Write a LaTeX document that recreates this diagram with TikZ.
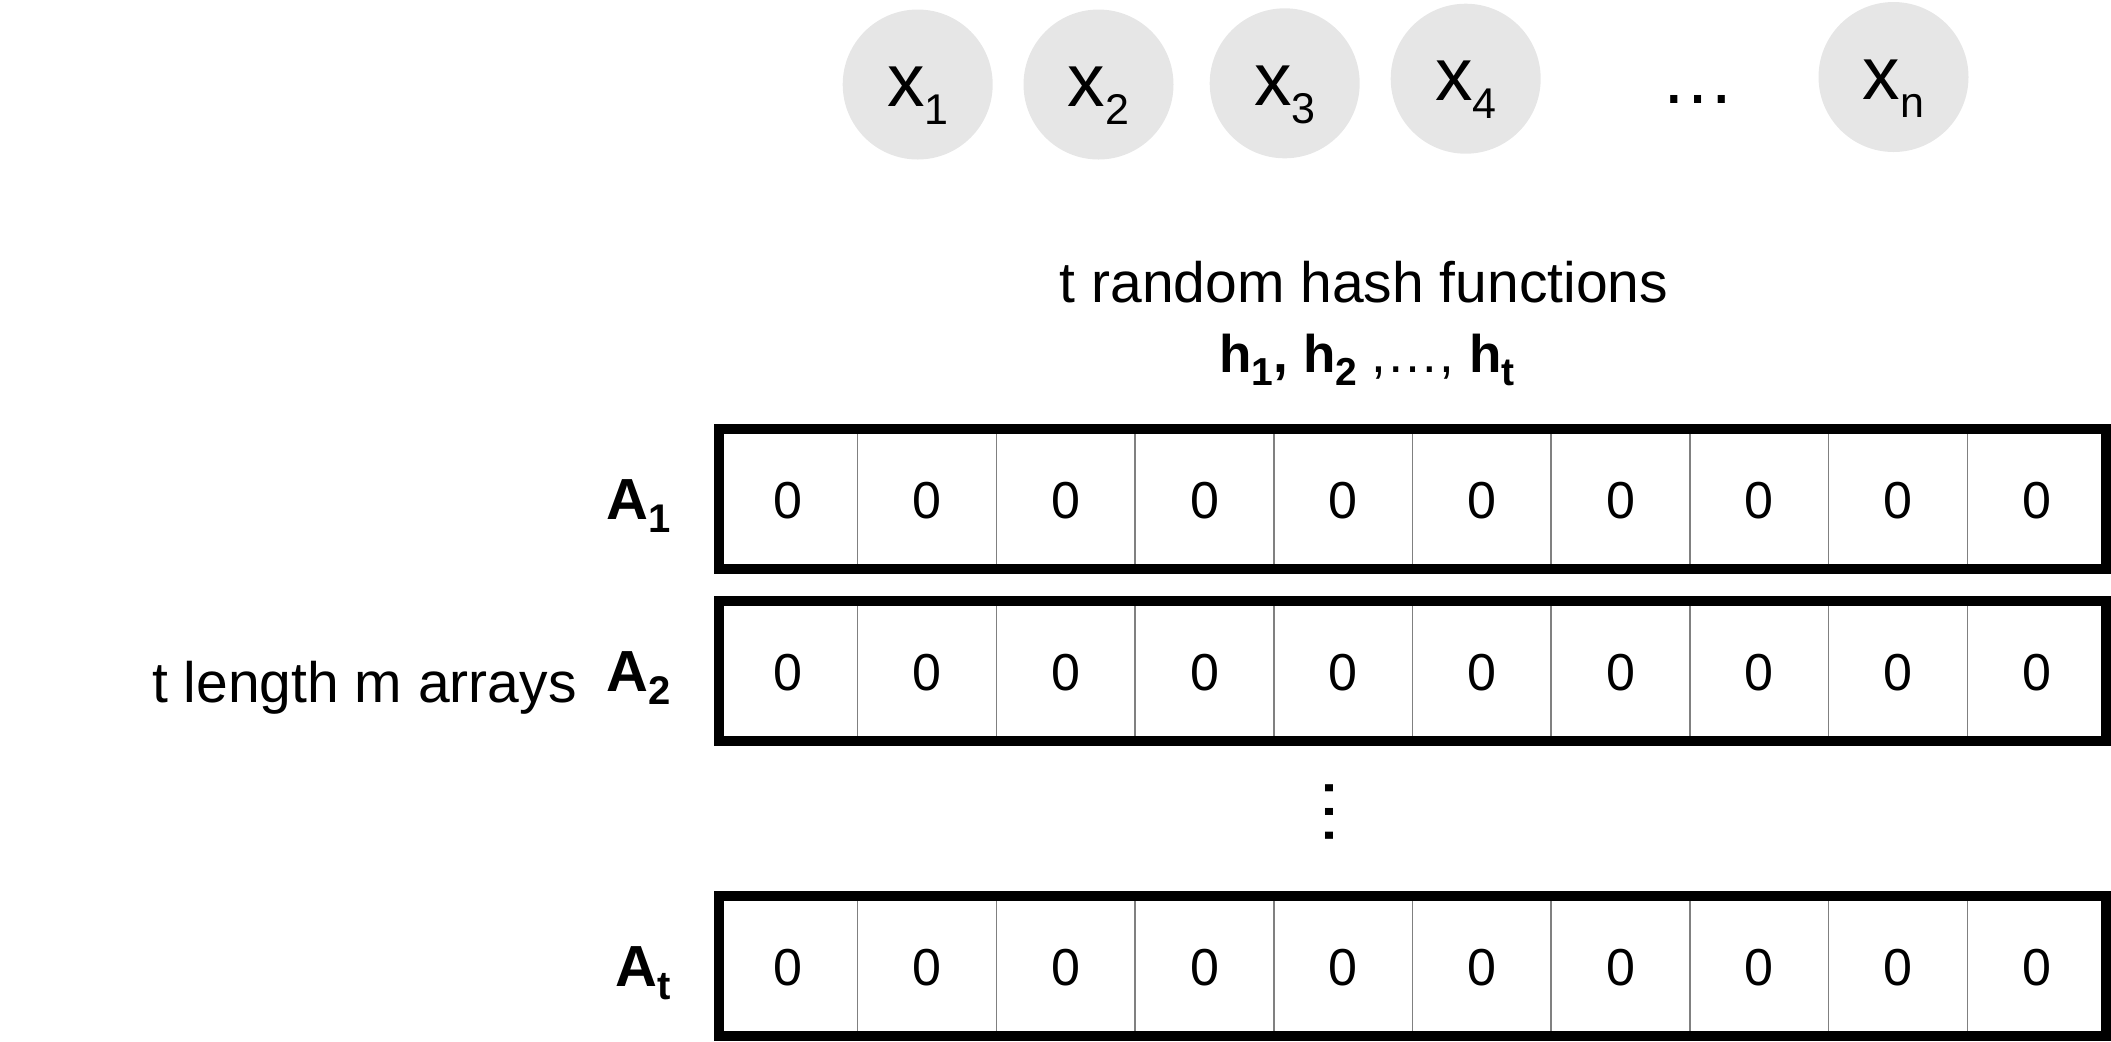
\documentclass[tikz,border=0pt]{standalone}
\usepackage{fontspec}
\setmainfont{Liberation Sans}
\definecolor{circfill}{RGB}{230,230,230}
\definecolor{divgray}{RGB}{128,128,128}
\newcommand\xsub[1]{\raisebox{-9pt}{\fontsize{21.5}{22}\selectfont #1}}
\newcommand\asub[1]{\raisebox{-6.5pt}{\fontsize{20}{20}\selectfont\bfseries #1}}
\newcommand\hsub[1]{\raisebox{-6.5pt}{\fontsize{19.5}{20}\selectfont\bfseries #1}}
\begin{document}
\begin{tikzpicture}[x=0.5pt,y=-0.5pt,
  circ/.style={circle, fill=circfill, minimum size=75pt, inner sep=0pt},
  xlab/.style={font=\fontsize{37.5}{40}\selectfont, anchor=base, inner sep=0pt},
  divline/.style={draw=divgray, line width=0.75pt},
  arrbox/.style={draw=black, line width=5pt},
  zero/.style={font=\fontsize{26}{28}\selectfont, inner sep=0pt, anchor=center},
  rowlab/.style={font=\fontsize{29}{30}\selectfont\bfseries, anchor=base east, inner sep=0pt},
  bigtext/.style={font=\fontsize{28.5}{30}\selectfont, inner sep=0pt},
  dotstext/.style={font=\fontsize{37.5}{40}\selectfont, inner sep=0pt}]
\useasboundingbox (0,0) rectangle (2111,1041);
% input elements
\node[circ] (x1) at (917.7,84.5) {};
\node[circ] (x2) at (1098.5,84.5) {};
\node[circ] (x3) at (1284.7,83.3) {};
\node[circ] (x4) at (1465.7,78.7) {};
\node[circ] (xn) at (1893.5,77) {};
\node[xlab] (lx1) at ([yshift=-11pt]x1.center) {x\xsub{1}};
\node[xlab] (lx2) at ([yshift=-11pt]x2.center) {x\xsub{2}};
\node[xlab] (lx3) at ([yshift=-11pt]x3.center) {x\xsub{3}};
\node[xlab] (lx4) at ([yshift=-11pt]x4.center) {x\xsub{4}};
\node[xlab] (lxn) at ([yshift=-11pt]xn.center) {x\xsub{n}};
\node[dotstext, anchor=base] (hdots) at (1698.3,103) {…};
% hash functions
\node[bigtext, anchor=base] (hashtitle) at (1364,302) {t random hash functions};
\node[font=\fontsize{26.5}{28}\selectfont, anchor=base, inner sep=0pt] (hashlist) at (1367,372)
  {\textbf{h\hsub{1}, h\hsub{2}} ,…, \textbf{h\hsub{t}}};
% arrays
\node[bigtext, anchor=base east] (arrlab) at (577,702) {t length m arrays};
\foreach \rr/\yy in {1/429,2/601,t/896}{
  \foreach \ii in {1,...,9}{
    \draw[divline] ({719+\ii*138.7},\yy) -- ({719+\ii*138.7},{\yy+140});
  }
  \draw[arrbox] (719,\yy) rectangle (2106,{\yy+140});
  \foreach \ii in {0,...,9}{
    \node[zero] (c\rr-\ii) at ({788.35+\ii*138.7},{\yy+72}) {0};
  }
  \node[rowlab] (lab\rr) at (671,{\yy+90}) {A\asub{\rr}};
}
\node[dotstext, rotate=90] (vdots) at (1329.7,812) {…};
\end{tikzpicture}
\end{document}
